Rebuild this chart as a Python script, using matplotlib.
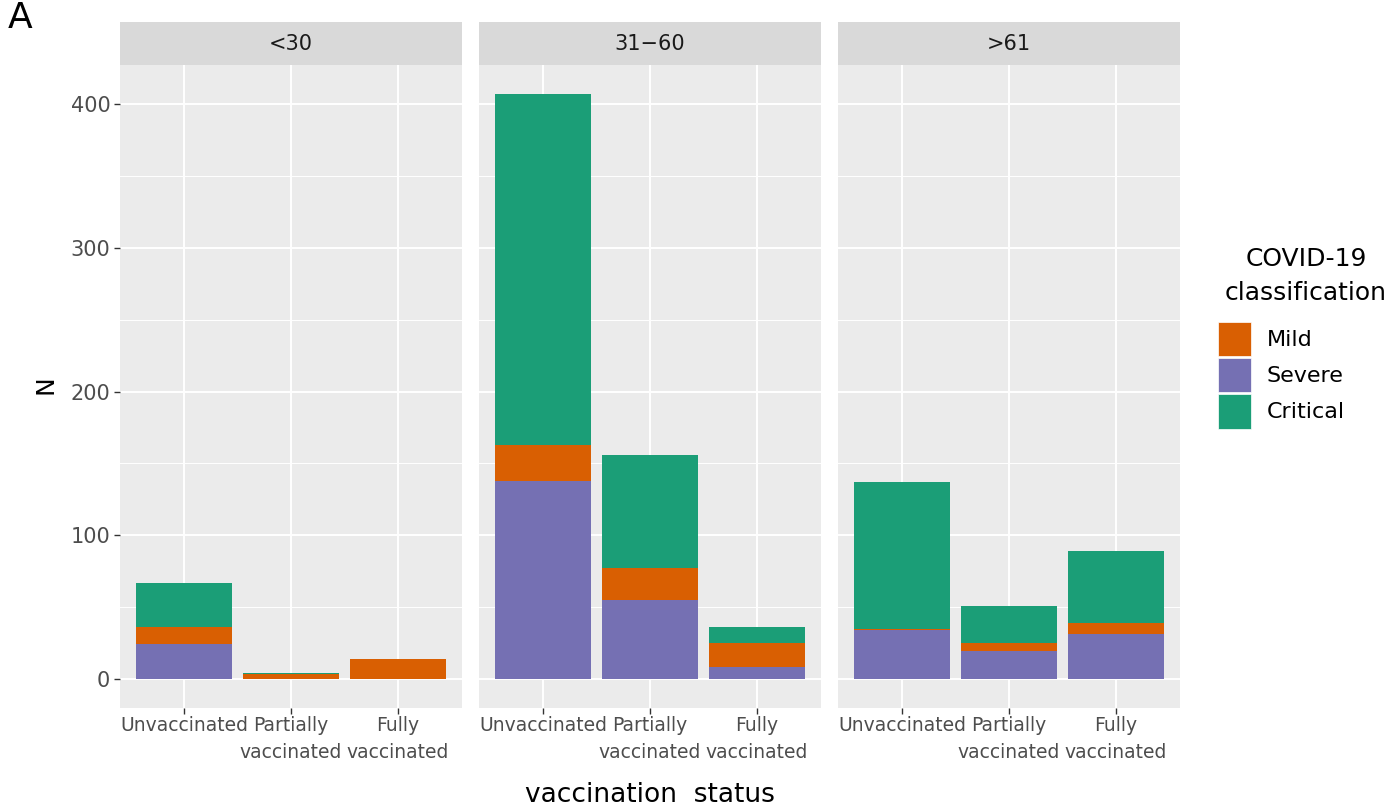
import numpy as np
import matplotlib
matplotlib.use("Agg")
import matplotlib.pyplot as plt
from matplotlib.patches import Patch

# ---- data ----
age_groups = ["<30", "31\u221260", ">61"]
status = ["Unvaccinated", "Partially\nvaccinated", "Fully\nvaccinated"]
classes = ["Mild", "Severe", "Critical"]
# counts per age group, per vaccination status
severe = {"<30": [24, 0, 0], "31\u221260": [138, 55, 8], ">61": [34, 19, 31]}
mild = {"<30": [12, 3, 14], "31\u221260": [25, 22, 17], ">61": [1, 6, 8]}
critical = {"<30": [31, 1, 0], "31\u221260": [244, 79, 11], ">61": [102, 26, 50]}
colors = {"Mild": "#D95F02", "Severe": "#7570B3", "Critical": "#1B9E77"}
y_ticks = [0, 100, 200, 300, 400]

plt.rcParams["font.family"] = ["DejaVu Sans"]
W, H = 1389, 808
fig = plt.figure(figsize=(W / 100, H / 100), dpi=100)

panel_x = [120, 479, 838]
panel_w = 342
top_px, bot_px = 65, 708
strip_top = 22

ymin, ymax = -20.35, 427.35
x = np.arange(1, 4)

for i, g in enumerate(age_groups):
    left = panel_x[i] / W
    ax = fig.add_axes([left, 1 - bot_px / H, panel_w / W, (bot_px - top_px) / H])
    ax.set_facecolor("#EBEBEB")
    for s in ax.spines.values():
        s.set_visible(False)
    sev = np.array(severe[g]); mi = np.array(mild[g]); cr = np.array(critical[g])
    ax.bar(x, sev, width=0.9, color=colors["Severe"], zorder=3)
    ax.bar(x, mi, width=0.9, bottom=sev, color=colors["Mild"], zorder=3)
    ax.bar(x, cr, width=0.9, bottom=sev + mi, color=colors["Critical"], zorder=3)
    ax.set_xlim(0.4, 3.6)
    ax.set_ylim(ymin, ymax)
    ax.set_yticks(y_ticks)
    ax.set_yticks([50, 150, 250, 350], minor=True)
    ax.set_xticks(x)
    ax.set_xticklabels(status, fontsize=13.5, color="#4D4D4D", linespacing=1.5)
    ax.grid(which="major", color="white", lw=1.4, zorder=1)
    ax.grid(which="minor", axis="y", color="white", lw=0.7, zorder=1)
    ax.tick_params(axis="x", which="major", length=4, width=1, color="#333333", pad=2)
    ax.tick_params(axis="y", which="minor", length=0)
    if i == 0:
        ax.tick_params(axis="y", which="major", length=4, width=1, color="#333333",
                       labelsize=15, labelcolor="#4D4D4D", pad=3)
    else:
        ax.tick_params(axis="y", which="major", length=0, labelleft=False)
    # strip
    sax = fig.add_axes([left, 1 - top_px / H, panel_w / W, (top_px - strip_top) / H])
    sax.set_facecolor("#D9D9D9")
    sax.set_xticks([]); sax.set_yticks([])
    for s in sax.spines.values():
        s.set_visible(False)
    sax.text(0.5, 0.5, g, ha="center", va="center", fontsize=15, color="#1A1A1A",
             transform=sax.transAxes)

fig.text(8 / W, 1 - 18 / H, "A", fontsize=26, ha="left", va="center")
fig.text(45 / W, 1 - 385 / H, "N", fontsize=18, rotation=90, ha="center", va="center")
fig.text(650 / W, 1 - 795 / H, "vaccination  status", fontsize=19, ha="center", va="center")

# legend title
fig.text(1306 / W, 1 - 276 / H, "COVID-19\nclassification", fontsize=18, ha="center",
         va="center", linespacing=1.55, multialignment="center")
handles = [Patch(facecolor=colors[c], edgecolor="white", lw=0.5) for c in classes]
leg = fig.legend(handles, classes, loc="upper left", bbox_to_anchor=(1218 / W, 1 - 322 / H),
                 frameon=False, fontsize=16, handlelength=1.5, handleheight=2.0,
                 labelspacing=0.08, handletextpad=0.7, borderpad=0, borderaxespad=0)

fig.savefig("out.png", dpi=100)
